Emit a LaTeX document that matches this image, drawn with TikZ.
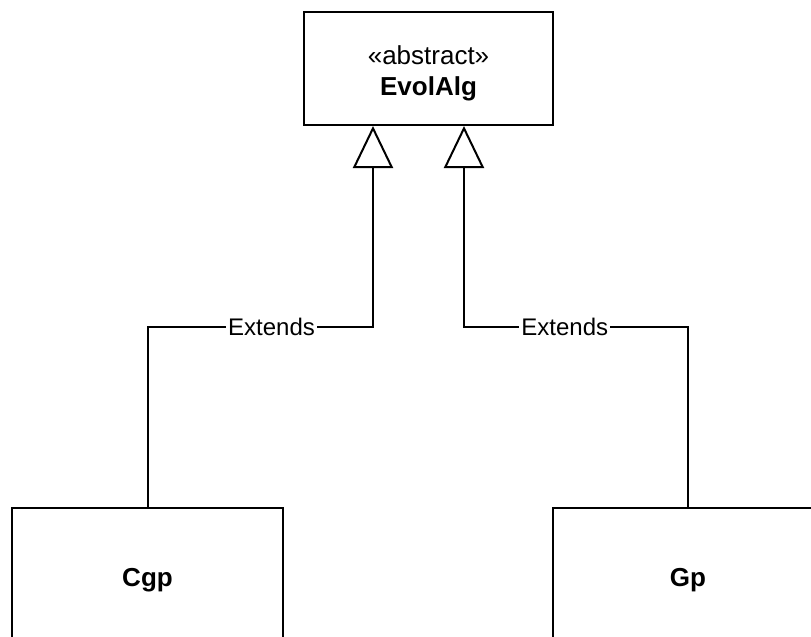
\documentclass[tikz,border=0pt]{standalone}
\usepackage{fontspec}
\setmainfont{Liberation Sans}
\usetikzlibrary{arrows.meta,positioning}
\tikzset{
    classbox/.style={
        rectangle,
        draw=black, line width=1pt,
        inner sep=0pt,
        align=center,
        font=\fontsize{13}{15.6}\selectfont
    },
    extends/.style={draw, line width=1pt, -{Triangle[open, length=21pt, width=20pt]}},
    linklabel/.style={fill=white, inner sep=1pt, font=\fontsize{12}{14.4}\selectfont}
}

\begin{document}
\begin{tikzpicture}[x=0.5pt, y=-0.5pt]
    \useasboundingbox (0,0) rectangle (811,637);

    \node[classbox, minimum width=124.5pt, minimum height=56.5pt] (evol) at (428.5,68.5)
        {\rule{0pt}{14pt}«abstract»\\\textbf{EvolAlg}};
    \node[classbox, minimum width=135.5pt, minimum height=69pt, text depth=0pt] (cgp) at (147.5,577) {\textbf{Cgp}};
    \node[classbox, minimum width=135.5pt, minimum height=69pt, text depth=0pt] (gp) at (688,577) {\textbf{Gp}};

    % bends of the two links
    \coordinate (bendl) at (373,327);
    \coordinate (bendr) at (464,327);

    \draw[extends] (cgp.north) |- node[linklabel, pos=0.775] {Extends} (bendl) -- (bendl |- evol.south);
    \draw[extends] (gp.north) |- node[linklabel, pos=0.775] {Extends} (bendr) -- (bendr |- evol.south);
\end{tikzpicture}
\end{document}
